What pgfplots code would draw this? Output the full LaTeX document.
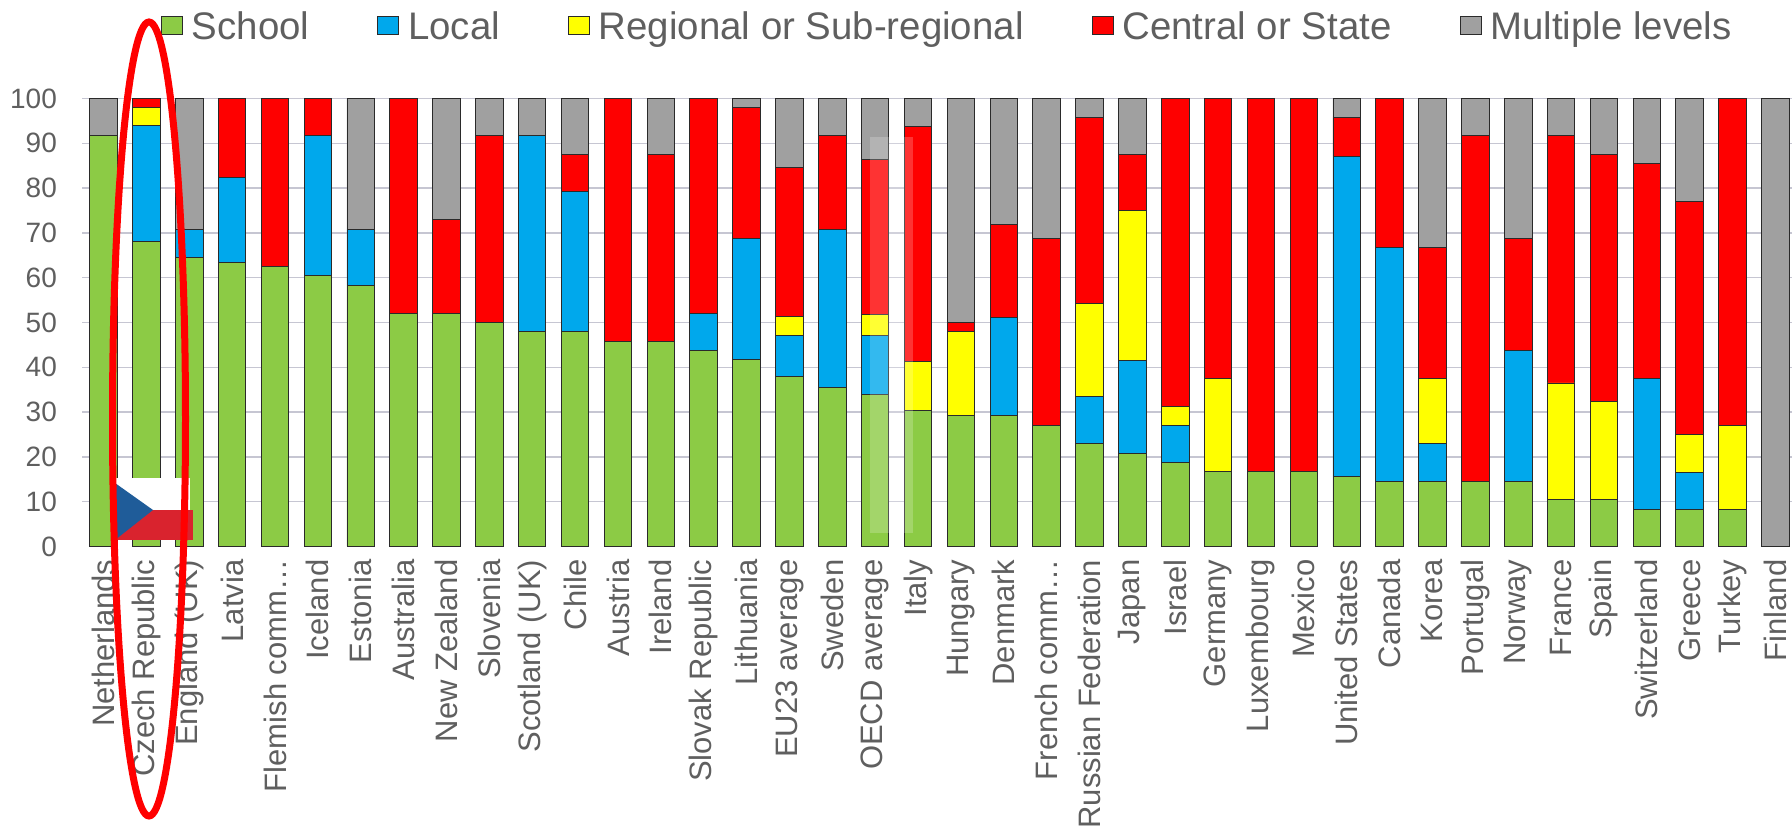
\documentclass[border=0pt]{standalone}
\usepackage{fontspec}
\setmainfont{Liberation Sans}
\usepackage{pgfplots}
\usepackage{pgfplotstable}
\pgfplotsset{compat=1.18}

\definecolor{cschool}{HTML}{8CCB45}
\definecolor{clocal}{HTML}{00A8EC}
\definecolor{cregional}{HTML}{FFFF00}
\definecolor{ccentral}{HTML}{FE0000}
\definecolor{cmultiple}{HTML}{A0A0A0}
\definecolor{ctext}{HTML}{5F5F5F}
\definecolor{cgrid}{HTML}{C6C6D2}
\definecolor{cedge}{HTML}{2A2A2A}

\pgfplotstableread{
idx school local regional central multiple
0  91.7 0    0    0    8.3
1  68.0 26.0 4.0  2.0  0
2  64.6 6.2  0    0    29.2
3  63.4 18.9 0    17.7 0
4  62.5 0    0    37.5 0
5  60.4 31.3 0    8.3  0
6  58.3 12.5 0    0    29.2
7  52.1 0    0    47.9 0
8  52.1 0    0    20.8 27.1
9  50.0 0    0    41.7 8.3
10 47.9 43.8 0    0    8.3
11 47.9 31.3 0    8.3  12.5
12 45.8 0    0    54.2 0
13 45.8 0    0    41.7 12.5
14 43.8 8.3  0    47.9 0
15 41.7 27.1 0    29.2 2.0
16 38.0 9.0  4.3  33.2 15.5
17 35.4 35.4 0    20.9 8.3
18 34.0 13.0 4.8  34.5 13.7
19 30.4 0    11.0 52.3 6.3
20 29.2 0    18.8 2.1  49.9
21 29.2 21.9 0    20.8 28.1
22 27.1 0    0    41.7 31.2
23 23.0 10.4 20.8 41.6 4.2
24 20.8 20.8 33.4 12.5 12.5
25 18.8 8.3  4.1  68.8 0
26 16.7 0    20.8 62.5 0
27 16.7 0    0    83.3 0
28 16.7 0    0    83.3 0
29 15.6 71.5 0    8.7  4.2
30 14.6 52.1 0    33.3 0
31 14.6 8.3  14.6 29.2 33.3
32 14.6 0    0    77.1 8.3
33 14.6 29.2 0    25.0 31.2
34 10.4 0    26.1 55.2 8.3
35 10.4 0    22.0 55.0 12.6
36 8.3  29.2 0    47.9 14.6
37 8.3  8.3  8.4  52.1 22.9
38 8.3  0    18.8 72.9 0
39 0    0    0    0    100
}\levels

\begin{document}
\begin{tikzpicture}[x=1pt,y=1pt]
\path[use as bounding box] (0,0) rectangle (1792,829);
\begin{axis}[
    at={(82.06pt,282.5pt)}, anchor=south west,
    scale only axis, width=1714.8pt, height=448pt,
    ybar stacked, bar width=27.5pt,
    xmin=-0.5, xmax=39.5, ymin=0, ymax=100,
    clip=false,
    axis line style={draw=none},
    major tick length=0pt,
    ymajorgrids, grid style={cgrid, line width=1.5pt},
    ytick={10,20,...,100},
    extra y ticks={0},
    extra y tick style={grid=none},
    xtick=data,
    xticklabels={Netherlands,Czech Republic,England (UK),Latvia,Flemish comm…,Iceland,Estonia,Australia,New Zealand,Slovenia,Scotland (UK),Chile,Austria,Ireland,Slovak Republic,Lithuania,EU23 average,Sweden,OECD average,Italy,Hungary,Denmark,French comm…,Russian Federation,Japan,Israel,Germany,Luxembourg,Mexico,United States,Canada,Korea,Portugal,Norway,France,Spain,Switzerland,Greece,Turkey,Finland},
    xticklabel style={rotate=90, anchor=east, inner sep=0pt, xshift=-13pt,
        font=\fontsize{31}{31}\selectfont, text=ctext},
    yticklabel style={anchor=east, inner sep=0pt, xshift=-25pt,
        font=\fontsize{28}{28}\selectfont, text=ctext,
        /pgf/number format/assume math mode=true},
    legend columns=5,
    legend image code/.code={\draw[#1] (0pt,-9pt) rectangle (21pt,9pt);},
    legend style={at={(0.0459,1.162)}, anchor=west, draw=none, fill=none,
        inner sep=0pt, font=\fontsize{38.4}{38}\selectfont, text=ctext,
        /tikz/every odd column/.append style={column sep=7pt},
        /tikz/every even column/.append style={column sep=66pt}},
]
\addplot[fill=cschool, draw=cedge, line width=0.9pt] table[x=idx,y=school] {\levels};
\addplot[fill=clocal, draw=cedge, line width=0.9pt] table[x=idx,y=local] {\levels};
\addplot[fill=cregional, draw=cedge, line width=0.9pt] table[x=idx,y=regional] {\levels};
\addplot[fill=ccentral, draw=cedge, line width=0.9pt] table[x=idx,y=central] {\levels};
\addplot[fill=cmultiple, draw=cedge, line width=0.9pt] table[x=idx,y=multiple] {\levels};
\legend{School,Local,Regional or Sub-regional,Central or State,Multiple levels}
\end{axis}
% highlight over the OECD bar
\fill[white, opacity=0.2] (870,692) rectangle (913,296);
% flag
\definecolor{flagblue}{HTML}{1F5C99}
\definecolor{flagred}{HTML}{D9232E}
\fill[white] (115,351) rectangle (190,319);
\fill[flagred] (115,319) rectangle (193,289);
\fill[flagblue] (115,346) -- (153,319) -- (115,289) -- cycle;
% marker ellipse
\draw[red, line width=7pt] (149,410) ellipse [x radius=36.5, y radius=397];
\end{tikzpicture}
\end{document}
